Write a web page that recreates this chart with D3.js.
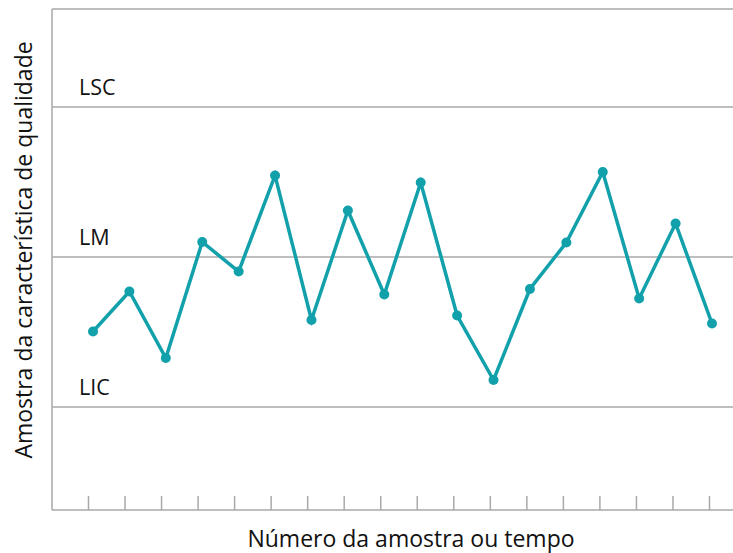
<!DOCTYPE html>
<html>
<head>
<meta charset="utf-8">
<script src="https://cdn.jsdelivr.net/npm/d3@7"></script>
<style>
  body { margin: 0; background: #fff; }
  svg { display: block; font-family: "Open Sans", "Noto Sans", sans-serif; }
</style>
</head>
<body>
<svg id="chart" width="733" height="553"></svg>
<script>
// Data
const samples = d3.range(1, 19);
const values = [-1.49, -0.69, -2.02, 0.30, -0.29, 1.63, -1.26, 0.93, -0.75, 1.49,
                -1.17, -2.46, -0.64, 0.29, 1.70, -0.83, 0.67, -1.33];
const limitNames = ["LSC", "LM", "LIC"];
const limitValues = [3, 0, -3];
const xTitle = "Número da amostra ou tempo";
const yTitle = "Amostra da característica de qualidade";

const W = 733, H = 553;
const mLeft = 52, mRight = 733, mTop = 9, mBottom = 510;
const teal = "#12a1ab", grid = "#a9a9a9";

const svg = d3.select("#chart");

const y = d3.scaleLinear().domain([-5.06, 4.96]).range([mBottom, mTop]);
const xPts = d3.scaleLinear().domain([1, 18]).range([93, 712]);
const xTicks = d3.scaleLinear().domain([1, 18]).range([88, 709]);

// top border line
svg.append("line")
  .attr("x1", mLeft).attr("x2", mRight)
  .attr("y1", y(4.96)).attr("y2", y(4.96))
  .attr("stroke", grid).attr("stroke-width", 1.5);

// limit lines
svg.selectAll("line.limit").data(limitValues).join("line")
  .attr("class", "limit")
  .attr("x1", mLeft).attr("x2", mRight)
  .attr("y1", d => y(d)).attr("y2", d => y(d))
  .attr("stroke", grid).attr("stroke-width", 1.5);

// limit labels
svg.selectAll("text.limit").data(limitNames).join("text")
  .attr("class", "limit")
  .attr("x", 79)
  .attr("y", (d, i) => y(limitValues[i]) - 12)
  .attr("font-size", 21.5)
  .attr("fill", "#111")
  .text(d => d);

// left axis line
svg.append("line")
  .attr("x1", mLeft).attr("x2", mLeft)
  .attr("y1", mTop).attr("y2", mBottom)
  .attr("stroke", grid).attr("stroke-width", 1.5);

// bottom axis with ticks
const xAxis = d3.axisTop(xTicks).tickValues(samples).tickSize(14).tickFormat("");
const gx = svg.append("g").attr("transform", `translate(0,${mBottom})`).call(xAxis);
gx.select(".domain").remove();
gx.selectAll(".tick line").attr("stroke", grid).attr("stroke-width", 1.5);
svg.append("line")
  .attr("x1", mLeft).attr("x2", mRight)
  .attr("y1", mBottom).attr("y2", mBottom)
  .attr("stroke", grid).attr("stroke-width", 1.5);

// series line
const line = d3.line().x((d, i) => xPts(samples[i])).y(d => y(d));
svg.append("path").datum(values)
  .attr("d", line)
  .attr("fill", "none")
  .attr("stroke", teal)
  .attr("stroke-width", 3.5)
  .attr("stroke-linejoin", "miter");

svg.selectAll("circle.pt").data(values).join("circle")
  .attr("class", "pt")
  .attr("cx", (d, i) => xPts(samples[i]))
  .attr("cy", d => y(d))
  .attr("r", 5)
  .attr("fill", teal);

// axis titles
svg.append("text")
  .attr("x", 411)
  .attr("y", 547)
  .attr("text-anchor", "middle")
  .attr("font-size", 23)
  .attr("fill", "#111")
  .text(xTitle);

svg.append("text")
  .attr("transform", `translate(32,250) rotate(-90)`)
  .attr("text-anchor", "middle")
  .attr("font-size", 23)
  .attr("fill", "#111")
  .text(yTitle);
</script>
</body>
</html>
